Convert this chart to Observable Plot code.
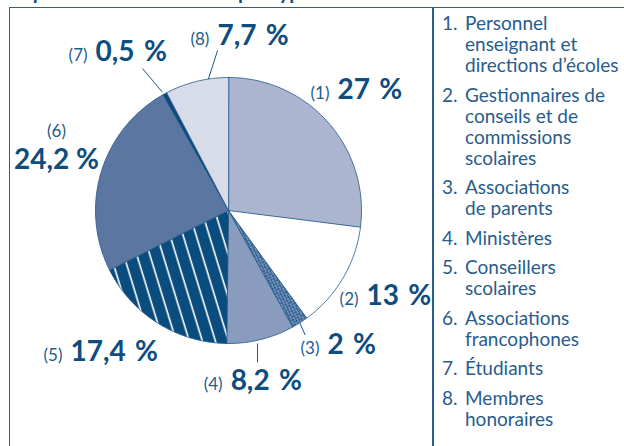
<!DOCTYPE html>
<html><head><meta charset="utf-8">
<script src="https://cdn.jsdelivr.net/npm/d3@7"></script>
<script src="https://cdn.jsdelivr.net/npm/@observablehq/plot@0.6"></script>
<style>
html,body{margin:0;padding:0;background:#fff;}
#root{position:relative;width:624px;height:446px;overflow:hidden;font-family:Lato,"Open Sans",sans-serif;}
#title{position:absolute;left:10px;top:-19px;font-size:20px;line-height:20px;font-weight:700;color:#0e4d7e;white-space:nowrap;}
#frame{position:absolute;left:9px;top:7px;width:640px;height:460px;border-top:1.5px solid #2c5f8f;border-left:1.5px solid #2c5f8f;}
#divider{position:absolute;left:432px;top:8px;width:1.5px;height:440px;background:#2c5f8f;}
#legend{position:absolute;left:442px;top:12.2px;color:#275c8c;font-size:19px;line-height:21px;}
.item{display:flex;margin-bottom:8.5px;white-space:nowrap;}
.num{width:23px;flex:none;}
#chart{position:absolute;left:0;top:0;}
</style></head>
<body>
<div id="root">
  <div id="title">Répartition des membres par type</div>
  <div id="frame"></div>
  <div id="divider"></div>
  <div id="chart"></div>
  <div id="legend"></div>
</div>
<script>
// ---- data ----
const numbers = ["1.", "2.", "3.", "4.", "5.", "6.", "7.", "8."];
const categories = [
  ["Personnel", "enseignant et", "directions d’écoles"],
  ["Gestionnaires de", "conseils et de", "commissions", "scolaires"],
  ["Associations", "de parents"],
  ["Ministères"],
  ["Conseillers", "scolaires"],
  ["Associations", "francophones"],
  ["Étudiants"],
  ["Membres", "honoraires"]
];
const shares = [27, 13, 2, 8.2, 17.4, 24.2, 0.5, 7.7];
const keys = ["(1)", "(2)", "(3)", "(4)", "(5)", "(6)", "(7)", "(8)"];

// ---- styles / layout ----
const fills = ["#abb5d0", "#ffffff", "url(#hatch)", "#8a9cbd", "url(#stripes)", "#5b77a1", "#0b4a7c", "#d8dce9"];
const labelLayout = [
  {a: 43.4, r: 1.149}, {a: 125.3, r: 1.235}, {a: 146.4, r: 1.291}, {a: 180.6, r: 1.346},
  {a: 227.2, r: 1.66}, {a: 283.7, r: 1.331, stack: true}, {a: 317.6, r: 1.527}, {a: 354.8, r: 1.253}
];
const leaders = [
  {a1: 147.6, r1: 1.0, a2: 148.4, r2: 1.10},
  {a1: 167.7, r1: 1.023, a2: 169.2, r2: 1.163},
  {a1: 330.8, r1: 1.02, a2: 328.8, r2: 1.248},
  {a1: 351.3, r1: 1.0, a2: 356.1, r2: 1.206}
];

// legend
const legend = document.getElementById("legend");
categories.forEach((lines, i) => {
  const item = document.createElement("div");
  item.className = "item";
  item.innerHTML = `<span class="num">${numbers[i]}</span><span>${lines.join("<br>")}</span>`;
  legend.appendChild(item);
});

// pie geometry
const arcs = d3.pie().sort(null).value(d => d)(shares);
const pt = (aRad, r) => ({x: r * Math.sin(aRad), y: r * Math.cos(aRad)});
const deg = d => d * Math.PI / 180;
const rows = [];
arcs.forEach((arc, i) => {
  rows.push({slice: i, fill: fills[i], ...pt(0, 0)});
  const n = Math.max(2, Math.ceil((arc.endAngle - arc.startAngle) / deg(1)));
  for (let k = 0; k <= n; k++) {
    const a = arc.startAngle + (arc.endAngle - arc.startAngle) * k / n;
    rows.push({slice: i, fill: fills[i], ...pt(a, 1)});
  }
});

const labels = shares.map((v, i) => {
  const L = labelLayout[i];
  const sp = L.stack ? " " : "\u2004";
  return {key: keys[i], value: String(v).replace(".", ",") + sp + "%", stack: !!L.stack, ...pt(deg(L.a), L.r)};
});
const links = leaders.map(l => {
  const p1 = pt(deg(l.a1), l.r1), p2 = pt(deg(l.a2), l.r2);
  return {x1: p1.x, y1: p1.y, x2: p2.x, y2: p2.y};
});

const ink = "#1f5788";
const keyColor = "#245b8d";
const svg = Plot.plot({
  width: 624, height: 446,
  margin: 0,
  x: {domain: [-1, 1], range: [95, 361], axis: null},
  y: {domain: [-1, 1], range: [343, 77], axis: null},
  color: {type: "identity"},
  style: {fontFamily: "Lato, 'Open Sans', sans-serif", background: "transparent"},
  marks: [
    Plot.line(rows, {x: "x", y: "y", z: "slice", fill: "fill", stroke: ink, strokeWidth: 0.8, curve: "linear-closed"}),
    Plot.link(links, {x1: "x1", y1: "y1", x2: "x2", y2: "y2", stroke: ink, strokeWidth: 1}),
    Plot.text(labels.filter(d => !d.stack), {x: "x", y: "y", text: "key", textAnchor: "end", lineAnchor: "bottom", dx: -4, fontSize: 17, fontWeight: 400, fill: keyColor}),
    Plot.text(labels.filter(d => !d.stack), {x: "x", y: "y", text: "value", textAnchor: "start", lineAnchor: "bottom", dx: 4, fontSize: 28, fontWeight: 700, fill: "#0e4d7e"}),
    Plot.text(labels.filter(d => d.stack), {x: "x", y: "y", text: "key", textAnchor: "middle", lineAnchor: "bottom", dy: -32, fontSize: 17, fontWeight: 400, fill: keyColor}),
    Plot.text(labels.filter(d => d.stack), {x: "x", y: "y", text: "value", textAnchor: "middle", lineAnchor: "bottom", fontSize: 28, fontWeight: 700, fill: "#0e4d7e"})
  ]
});

const defs = d3.select(svg).insert("defs", ":first-child");
const st = defs.append("pattern").attr("id", "stripes").attr("patternUnits", "userSpaceOnUse")
  .attr("width", 12.5).attr("height", 12.5).attr("patternTransform", "rotate(-17)");
st.append("rect").attr("width", 12.5).attr("height", 12.5).attr("fill", "#0b4c7e");
st.append("line").attr("x1", 6).attr("y1", -1).attr("x2", 6).attr("y2", 13.5).attr("stroke", "#ffffff").attr("stroke-width", 1.6);
const ht = defs.append("pattern").attr("id", "hatch").attr("patternUnits", "userSpaceOnUse")
  .attr("width", 4).attr("height", 4).attr("patternTransform", "rotate(20)");
ht.append("rect").attr("width", 4).attr("height", 4).attr("fill", "#8ea2c4");
ht.append("path").attr("d", "M0,0L4,4M4,0L0,4").attr("stroke", "#245a8d").attr("stroke-width", 1.1);

document.getElementById("chart").appendChild(svg);
</script>
</body></html>
